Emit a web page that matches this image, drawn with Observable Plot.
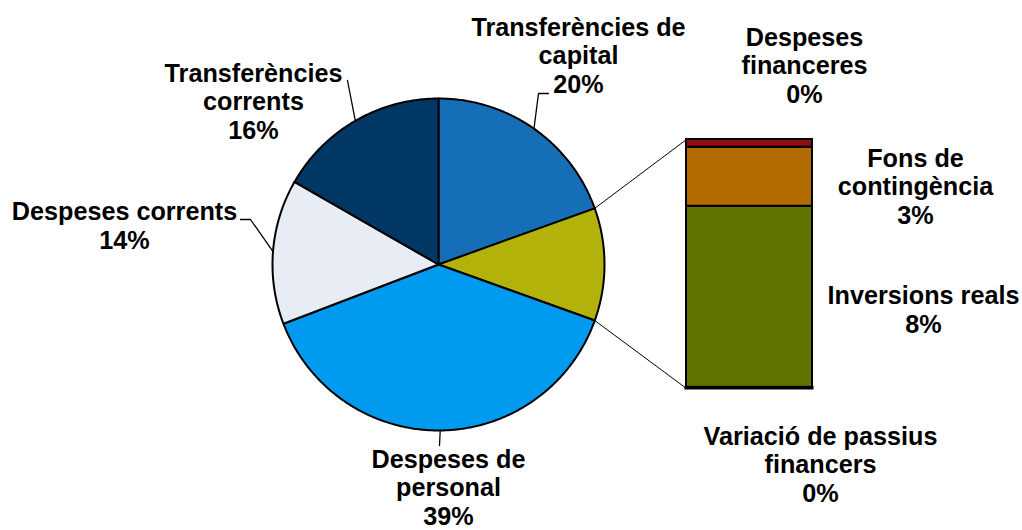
<!DOCTYPE html>
<html><head><meta charset="utf-8">
<script src="https://cdn.jsdelivr.net/npm/d3@7"></script>
<script src="https://cdn.jsdelivr.net/npm/@observablehq/plot@0.6"></script>
<style>body{margin:0;background:#fff}</style>
</head><body><div id="chart"></div>
<script>
// ---- data ----
const barCategories = ["Variació de passius financers", "Inversions reals", "Fons de contingència", "Despeses financeres"];
const barValues = [0.03, 8.0, 2.6, 0.34];
const barLabels = ["Variació de passius\nfinancers\n0%", "Inversions reals\n8%", "Fons de\ncontingència\n3%", "Despeses\nfinanceres\n0%"];
const barColors = ["#000000", "#617400", "#b26b00", "#8b1010"];

const pieCategories = ["Transferències de capital", "Altres", "Despeses de personal", "Despeses corrents", "Transferències corrents"];
const pieValues = [19.5, d3.sum(barValues), 38.7, 14.1, 16.7];
const pieLabels = ["Transferències de\ncapital\n20%", null, "Despeses de\npersonal\n39%", "Despeses corrents\n14%", "Transferències\ncorrents\n16%"];
const pieColors = ["#166eb6", "#b2b20a", "#009aee", "#e8ecf4", "#003764"];

// ---- layout ----
const W = 1022, H = 530;
const cx = 438, cy = 264, R = 166;
const barX0 = 686, barX1 = 812, barTop = 139, barBottom = 388;
const FS = 25.2, LH = 1.13;
// label anchors: [center x, baseline of last line], leader elbow points
const pieLabelPos = [[578, 92], null, [448, 524], [124, 248], [253, 138]];
const pieLeader = [[[538, 93], [548, 93]], null, [[439, 445]], [[250, 219], [240, 219]], [[347, 80]]];
const barLabelPos = [[820, 501], [923, 332], [915, 223], [804, 102]];

// ---- geometry from values ----
const total = d3.sum(pieValues);
const pt = (a, rr = R) => [cx + rr * Math.sin(a), cy - rr * Math.cos(a)];
let acc = 0;
const slices = pieValues.map((v, i) => {
  const a0 = acc / total * 2 * Math.PI; acc += v;
  const a1 = acc / total * 2 * Math.PI;
  const n = Math.max(2, Math.ceil((a1 - a0) / 0.01));
  const pts = [[cx, cy]];
  for (let k = 0; k <= n; k++) pts.push(pt(a0 + (a1 - a0) * k / n));
  pts.push([cx, cy]);
  return {i, a0, a1, mid: (a0 + a1) / 2, pts};
});

const barTotal = d3.sum(barValues);
const kpx = (barBottom - barTop) / barTotal;
let bacc = 0;
const barRects = barValues.map((v, i) => {
  const y2 = barBottom - bacc * kpx; bacc += v;
  const y1 = barBottom - bacc * kpx;
  return {i, x1: barX0, x2: barX1, y1, y2, fill: barColors[i]};
});

const other = slices[1];
const connectors = [
  [pt(other.a0), [barX0, barTop]],
  [pt(other.a1), [barX0, barBottom]]
];

const marks = [];
slices.forEach(s => {
  marks.push(Plot.line(s.pts, {x: d => d[0], y: d => d[1], fill: pieColors[s.i], stroke: "#000", strokeWidth: 2, strokeLinejoin: "round"}));
});
connectors.forEach(c => marks.push(Plot.line(c, {x: d => d[0], y: d => d[1], stroke: "#000", strokeWidth: 1})));
marks.push(Plot.rect(barRects, {x1: "x1", x2: "x2", y1: "y1", y2: "y2", fill: d => d.fill, stroke: "#000", strokeWidth: 2}));
marks.push(Plot.rect(barRects.slice(0,1), {x1: "x1", x2: "x2", y1: "y1", y2: "y2", stroke: "#000", strokeWidth: 3}));
slices.forEach(s => {
  if (!pieLeader[s.i]) return;
  const pts = [pt(s.mid), ...pieLeader[s.i]];
  marks.push(Plot.line(pts, {x: d => d[0], y: d => d[1], stroke: "#000", strokeWidth: 1.3}));
});
const labelRows = [];
pieLabels.forEach((t, i) => { if (t) labelRows.push({t, x: pieLabelPos[i][0], y: pieLabelPos[i][1]}); });
barLabels.forEach((t, i) => labelRows.push({t, x: barLabelPos[i][0], y: barLabelPos[i][1]}));
marks.push(Plot.text(labelRows, {x: "x", y: "y", text: "t", lineAnchor: "bottom", lineHeight: LH, fontSize: FS, fontWeight: "bold", fill: "#000", textAnchor: "middle"}));

const chart = Plot.plot({
  width: W, height: H, margin: 0,
  x: {domain: [0, W], range: [0, W], axis: null},
  y: {domain: [0, H], range: [0, H], axis: null},
  color: {type: "identity"},
  style: {fontFamily: "'Liberation Sans', Arial, sans-serif", background: "#fff", overflow: "visible"},
  marks
});
document.getElementById("chart").appendChild(chart);
</script>
</body></html>
